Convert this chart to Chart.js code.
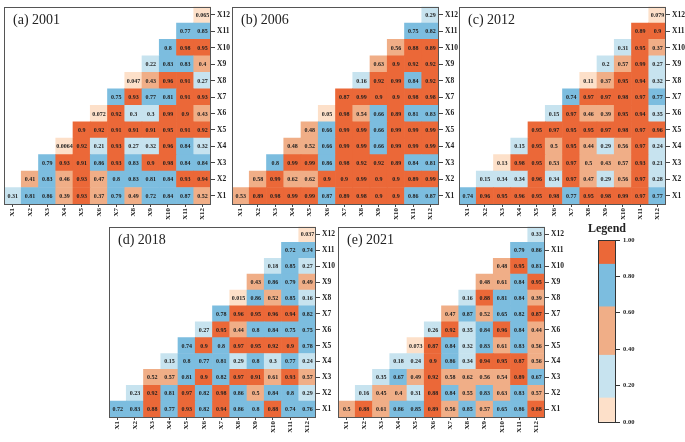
<!DOCTYPE html>
<html>
<head>
<meta charset="utf-8">
<script src="https://cdn.jsdelivr.net/npm/chart.js@4.4.0/dist/chart.umd.min.js"></script>
<style>
    html, body { margin: 0; padding: 0; background: #fff; overflow: hidden; }
    body { width: 685px; height: 442px; position: relative; }
    canvas { position: absolute; }
</style>
</head>
<body>
<canvas id="p0" width="231" height="228" style="left:0px;top:0px;width:231px;height:228px"></canvas>
<canvas id="p1" width="231" height="228" style="left:228px;top:0px;width:231px;height:228px"></canvas>
<canvas id="p2" width="231" height="228" style="left:455px;top:0px;width:231px;height:228px"></canvas>
<canvas id="p3" width="231" height="221" style="left:105px;top:220px;width:231px;height:221px"></canvas>
<canvas id="p4" width="231" height="221" style="left:334px;top:220px;width:231px;height:221px"></canvas>
<canvas id="legend" width="110" height="215" style="left:575px;top:222px;width:110px;height:215px"></canvas>
<script>
const varNames = ['X1', 'X2', 'X3', 'X4', 'X5', 'X6', 'X7', 'X8', 'X9', 'X10', 'X11', 'X12'];
const panelTitles = ['(a) 2001', '(b) 2006', '(c) 2012', '(d) 2018', '(e) 2021'];

// each row starts at its diagonal cell: row X1 has X1..X12, row X12 only X12
const r2001 = [
    [0.31, 0.81, 0.86, 0.39, 0.93, 0.37, 0.79, 0.49, 0.72, 0.84, 0.866, 0.52],
    [0.41, 0.83, 0.46, 0.93, 0.47, 0.8, 0.83, 0.81, 0.84, 0.93, 0.94],
    [0.79, 0.93, 0.91, 0.86, 0.93, 0.83, 0.9, 0.98, 0.84, 0.84],
    [0.0064, 0.92, 0.21, 0.93, 0.27, 0.32, 0.96, 0.84, 0.32],
    [0.9, 0.92, 0.91, 0.91, 0.91, 0.95, 0.91, 0.92],
    [0.072, 0.92, 0.3, 0.3, 0.99, 0.9, 0.43],
    [0.75, 0.93, 0.77, 0.81, 0.91, 0.93],
    [0.047, 0.43, 0.96, 0.91, 0.27],
    [0.22, 0.83, 0.83, 0.4],
    [0.8, 0.98, 0.95],
    [0.77, 0.85],
    [0.065]
];
const r2006 = [
    [0.53, 0.89, 0.98, 0.99, 0.99, 0.866, 0.89, 0.98, 0.9, 0.9, 0.86, 0.866],
    [0.58, 0.99, 0.62, 0.62, 0.9, 0.9, 0.99, 0.9, 0.9, 0.89, 0.99],
    [0.8, 0.99, 0.99, 0.86, 0.98, 0.92, 0.92, 0.89, 0.84, 0.81],
    [0.48, 0.52, 0.66, 0.99, 0.99, 0.66, 0.99, 0.99, 0.99],
    [0.48, 0.66, 0.99, 0.99, 0.66, 0.99, 0.99, 0.99],
    [0.05, 0.98, 0.54, 0.66, 0.89, 0.81, 0.83],
    [0.87, 0.99, 0.9, 0.9, 0.98, 0.98],
    [0.16, 0.92, 0.99, 0.84, 0.92],
    [0.63, 0.9, 0.92, 0.92],
    [0.56, 0.88, 0.89],
    [0.75, 0.82],
    [0.29]
];
const r2012 = [
    [0.74, 0.96, 0.95, 0.96, 0.95, 0.98, 0.77, 0.95, 0.98, 0.99, 0.97, 0.77],
    [0.15, 0.34, 0.34, 0.96, 0.34, 0.97, 0.47, 0.29, 0.56, 0.97, 0.28],
    [0.13, 0.98, 0.95, 0.53, 0.97, 0.5, 0.43, 0.57, 0.93, 0.21],
    [0.15, 0.95, 0.5, 0.95, 0.44, 0.29, 0.56, 0.97, 0.24],
    [0.95, 0.97, 0.95, 0.95, 0.97, 0.98, 0.97, 0.96],
    [0.15, 0.97, 0.46, 0.39, 0.95, 0.94, 0.35],
    [0.74, 0.97, 0.97, 0.98, 0.97, 0.77],
    [0.11, 0.37, 0.95, 0.94, 0.32],
    [0.2, 0.57, 0.99, 0.27],
    [0.31, 0.95, 0.37],
    [0.89, 0.9],
    [0.079]
];
const r2018 = [
    [0.72, 0.83, 0.88, 0.77, 0.93, 0.82, 0.94, 0.86, 0.8, 0.88, 0.74, 0.76],
    [0.23, 0.92, 0.81, 0.97, 0.82, 0.98, 0.86, 0.5, 0.84, 0.8, 0.29],
    [0.52, 0.57, 0.81, 0.9, 0.82, 0.97, 0.91, 0.61, 0.93, 0.57],
    [0.15, 0.8, 0.77, 0.81, 0.29, 0.8, 0.3, 0.77, 0.24],
    [0.74, 0.9, 0.8, 0.97, 0.95, 0.92, 0.9, 0.78],
    [0.27, 0.95, 0.44, 0.8, 0.84, 0.75, 0.75],
    [0.78, 0.96, 0.95, 0.96, 0.94, 0.82],
    [0.015, 0.86, 0.52, 0.85, 0.16],
    [0.43, 0.86, 0.79, 0.49],
    [0.18, 0.85, 0.27],
    [0.72, 0.74],
    [0.037]
];
const r2021 = [
    [0.5, 0.88, 0.61, 0.86, 0.85, 0.89, 0.56, 0.85, 0.57, 0.65, 0.86, 0.88],
    [0.16, 0.45, 0.4, 0.31, 0.88, 0.84, 0.55, 0.83, 0.63, 0.83, 0.57],
    [0.35, 0.67, 0.49, 0.92, 0.58, 0.62, 0.56, 0.54, 0.89, 0.67],
    [0.18, 0.24, 0.9, 0.86, 0.34, 0.94, 0.95, 0.87, 0.56],
    [0.073, 0.87, 0.84, 0.32, 0.83, 0.61, 0.83, 0.56],
    [0.26, 0.92, 0.35, 0.84, 0.96, 0.84, 0.44],
    [0.47, 0.866, 0.52, 0.65, 0.82, 0.87],
    [0.16, 0.88, 0.81, 0.84, 0.39],
    [0.48, 0.61, 0.84, 0.95],
    [0.48, 0.95, 0.81],
    [0.79, 0.86],
    [0.33]
];
const panelRows = [r2001, r2006, r2012, r2018, r2021];

const legendTicks = [0, 0.2, 0.4, 0.6, 0.8, 1];
const bandEdges = [0, 0.132, 0.367, 0.633, 0.867, 1];
const bandColors = ['#FDE0C9', '#C7E3EF', '#F0AE87', '#7CBDDF', '#EB6838'];

const serif = "'Liberation Serif', 'DejaVu Serif', serif";

function cellColor(v) {
    for (let i = bandColors.length - 1; i > 0; i--) {
        if (v >= bandEdges[i]) return bandColors[i];
    }
    return bandColors[0];
}

// frame round the plot area plus the panel title inside it
function framePlugin(title) {
    return {
        id: 'frame',
        afterDraw(chart) {
            const { ctx, chartArea: a } = chart;
            ctx.save();
            ctx.strokeStyle = '#555';
            ctx.lineWidth = 1;
            ctx.strokeRect(Math.round(a.left) + 0.5, Math.round(a.top) + 0.5,
                Math.round(a.right - a.left) - 1, Math.round(a.bottom - a.top) - 1);
            if (title) {
                ctx.font = '14px ' + serif;
                ctx.fillStyle = '#222';
                ctx.textBaseline = 'middle';
                ctx.fillText(title, a.left + 9, a.top + 14);
            }
            ctx.restore();
        }
    };
}

// value labels in the middle of each cell
const cellText = {
    id: 'cellText',
    afterDatasetsDraw(chart) {
        const ctx = chart.ctx;
        ctx.save();
        ctx.font = 'bold 6px ' + serif;
        ctx.fillStyle = '#1e1e1e';
        ctx.textAlign = 'center';
        ctx.textBaseline = 'middle';
        chart.data.datasets.forEach((ds, i) => {
            chart.getDatasetMeta(i).data.forEach((bar, j) => {
                const v = ds.values[j];
                if (v == null) return;
                const p = bar.getCenterPoint();
                ctx.fillText(String(+v.toPrecision(2)), p.x, p.y + 0.5);
            });
        });
        ctx.restore();
    }
};

panelRows.forEach((rows, p) => {
    const datasets = rows.map((row, r) => {
        const values = varNames.map((_, c) => c >= r ? row[c - r] : null);
        return {
            data: values.map(v => v == null ? null : [r + 0.5, r + 1.5]),
            values: values,
            backgroundColor: values.map(v => v == null ? 'rgba(0,0,0,0)' : cellColor(v)),
            borderWidth: 0,
            barPercentage: 1,
            categoryPercentage: 1,
            grouped: false
        };
    });

    new Chart(document.getElementById('p' + p), {
        type: 'bar',
        data: { labels: varNames, datasets: datasets },
        options: {
            responsive: false,
            animation: false,
            layout: { padding: { left: 4, top: 5, right: 0, bottom: 0 } },
            plugins: { legend: { display: false }, tooltip: { enabled: false } },
            scales: {
                x: {
                    type: 'category',
                    offset: true,
                    grid: { offset: false, drawOnChartArea: false, tickLength: 3, color: '#444' },
                    border: { display: false },
                    ticks: {
                        autoSkip: false, minRotation: 90, maxRotation: 90, padding: 1,
                        color: '#222', font: { family: serif, size: 7, weight: 'bold' }
                    },
                    afterFit: s => { s.height = 24; }
                },
                y: {
                    type: 'linear',
                    position: 'right',
                    min: 0.5,
                    max: 12.5,
                    afterBuildTicks: s => { s.ticks = varNames.map((_, i) => ({ value: i + 1 })); },
                    grid: { drawOnChartArea: false, tickLength: 4, color: '#444' },
                    border: { display: false },
                    ticks: {
                        padding: 2, color: '#222',
                        font: { family: serif, size: 7.5, weight: 'bold' },
                        callback: v => varNames[v - 1]
                    },
                    afterFit: s => { s.width = 20; }
                }
            }
        },
        plugins: [framePlugin(panelTitles[p]), cellText]
    });
});

// colour bar legend
const legendTitle = {
    id: 'legendTitle',
    afterDraw(chart) {
        const { ctx, chartArea: a } = chart;
        ctx.save();
        ctx.strokeStyle = '#333';
        ctx.lineWidth = 1;
        ctx.strokeRect(Math.round(a.left) + 0.5, Math.round(a.top) + 0.5,
            Math.round(a.right - a.left) - 1, Math.round(a.bottom - a.top));
        ctx.font = 'bold 12px ' + serif;
        ctx.fillStyle = '#222';
        ctx.textAlign = 'center';
        ctx.textBaseline = 'middle';
        ctx.fillText('Legend', (a.left + a.right) / 2, 7);
        ctx.restore();
    }
};

new Chart(document.getElementById('legend'), {
    type: 'bar',
    data: {
        labels: [''],
        datasets: bandColors.map((c, i) => ({
            data: [[bandEdges[i], bandEdges[i + 1]]],
            backgroundColor: c,
            borderWidth: 0,
            barPercentage: 1,
            categoryPercentage: 1,
            grouped: false
        }))
    },
    options: {
        responsive: false,
        animation: false,
        layout: { padding: { left: 23, top: 18, right: 0, bottom: 15 } },
        plugins: { legend: { display: false }, tooltip: { enabled: false } },
        scales: {
            x: { display: false },
            y: {
                position: 'right',
                min: 0,
                max: 1,
                afterBuildTicks: s => { s.ticks = legendTicks.map(v => ({ value: v })); },
                grid: { drawOnChartArea: false, tickLength: 4, color: '#333' },
                border: { display: false },
                ticks: {
                    padding: 3, color: '#222',
                    font: { family: serif, size: 6.5, weight: 'bold' },
                    callback: v => v.toFixed(2)
                },
                afterFit: s => { s.width = 69; }
            }
        }
    },
    plugins: [legendTitle]
});
</script>
</body>
</html>
